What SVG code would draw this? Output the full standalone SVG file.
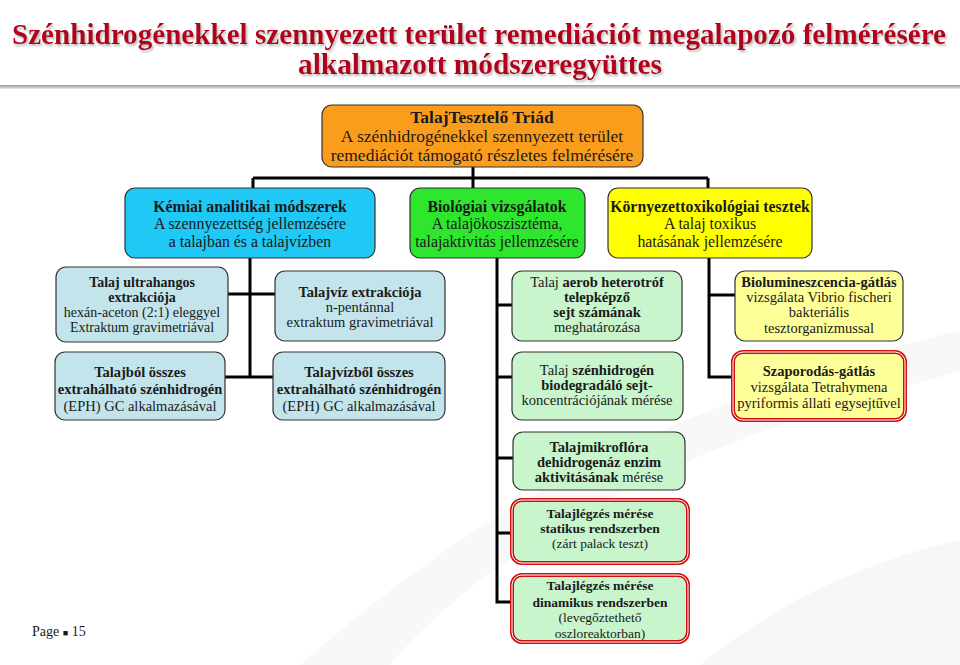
<svg xmlns="http://www.w3.org/2000/svg" width="960" height="665" viewBox="0 0 960 665">
<defs>
<linearGradient id="rule" x1="0" y1="0" x2="0" y2="1">
<stop offset="0" stop-color="#9a9a9a"/>
<stop offset="1" stop-color="#e8e8e8"/>
</linearGradient>
<filter id="tshadow" x="-5%" y="-20%" width="110%" height="150%">
<feDropShadow dx="1.5" dy="2" stdDeviation="0.8" flood-color="#999999" flood-opacity="0.7"/>
</filter>
<style>
text{font-family:"Liberation Serif","Times New Roman",serif;text-anchor:middle;fill:#1a1a1a}
.title{font-size:29px;font-weight:bold;fill:#b3001b}
.t18{font-size:17.5px}
.t16{font-size:15.8px}
.t145{font-size:14.5px}
.t14{font-size:14px}
.t135{font-size:13.5px}
.b{font-weight:bold}
.box{stroke:#333;stroke-width:1.2}
.dbl{stroke:#d01010;stroke-width:4}
.inner{fill:none;stroke:#fff;stroke-width:1}
.conn{fill:none;stroke:#000;stroke-width:3}
.bg{fill:#f3f3f3}
</style>
</defs>
<rect width="960" height="665" fill="#ffffff"/>
<g id="background">
<path class="bg" d="M300 665 C420 560 600 420 960 330 L960 372 C640 450 470 570 390 665 Z" opacity="0.6"/>
<path class="bg" d="M700 665 C780 600 870 560 960 540 L960 665 Z" opacity="0.7"/>
</g>
<g id="title" filter="url(#tshadow)">
<text class="title" x="479" y="44" textLength="934" lengthAdjust="spacingAndGlyphs">Szénhidrogénekkel szennyezett terület remediációt megalapozó felmérésére</text>
<text class="title" x="480" y="74" textLength="364" lengthAdjust="spacingAndGlyphs">alkalmazott módszeregyüttes</text>
</g>
<rect id="rule-line" x="0" y="85" width="960" height="4" fill="url(#rule)"/>
<g id="connectors">
<path class="conn" d="M473 167 V178 M253 178 H708 M253 178 V188 M473 178 V188 M708 178 V188"/>
<path class="conn" d="M250 258 V377 M228 294 H275 M225 377 H273"/>
<path class="conn" d="M497 258 V602 H512 M497 305 H512 M497 377 H512 M497 458 H513 M497 533 H512"/>
<path class="conn" d="M709 258 V377 H733 M709 295 H735"/>
</g>
<g id="triad">
<rect class="box" x="322" y="105" width="321" height="62" rx="10" fill="#fb9d1c"/>
<text class="t18 b" x="482" y="123">TalajTesztelő Triád</text>
<text class="t18" x="482" y="142">A szénhidrogénekkel szennyezett terület</text>
<text class="t18" x="482" y="161">remediációt támogató részletes felmérésére</text>
</g>
<g id="kemiai">
<rect class="box" x="125" y="188" width="250" height="70" rx="10" fill="#1fc8f5"/>
<text class="t16 b" x="250" y="212">Kémiai analitikai módszerek</text>
<text class="t16" x="250" y="229">A szennyezettség jellemzésére</text>
<text class="t16" x="250" y="247">a talajban és a talajvízben</text>
</g>
<g id="biologiai">
<rect class="box" x="410" y="188" width="175" height="70" rx="10" fill="#2ee62e"/>
<text class="t16 b" x="497" y="212">Biológiai vizsgálatok</text>
<text class="t16" x="497" y="229">A talajökoszisztéma,</text>
<text class="t16" x="497" y="247">talajaktivitás jellemzésére</text>
</g>
<g id="kornyezet">
<rect class="box" x="608" y="188" width="204" height="70" rx="10" fill="#ffff00"/>
<text class="t16 b" x="710" y="212">Környezettoxikológiai tesztek</text>
<text class="t16" x="710" y="229">A talaj  toxikus</text>
<text class="t16" x="710" y="247">hatásának jellemzésére</text>
</g>
<g id="ultrahang">
<rect class="box" x="56" y="267" width="172" height="75" rx="10" fill="#c2e4ea"/>
<text class="t14 b" x="142" y="287">Talaj ultrahangos</text>
<text class="t14 b" x="142" y="302">extrakciója</text>
<text class="t14" x="142" y="317">hexán-aceton (2:1) eleggyel</text>
<text class="t14" x="142" y="332">Extraktum gravimetriával</text>
</g>
<g id="talajviz">
<rect class="box" x="275" y="271" width="170" height="70" rx="10" fill="#c2e4ea"/>
<text class="t145 b" x="360" y="297">Talajvíz extrakciója</text>
<text class="t145" x="360" y="312">n-pentánnal</text>
<text class="t145" x="360" y="327">extraktum gravimetriával</text>
</g>
<g id="talajbol">
<rect class="box" x="55" y="352" width="170" height="68" rx="10" fill="#c2e4ea"/>
<text class="t145 b" x="140" y="377">Talajból összes</text>
<text class="t145 b" x="140" y="394">extrahálható szénhidrogén</text>
<text class="t145" x="140" y="411">(EPH) GC alkalmazásával</text>
</g>
<g id="talajvizbol">
<rect class="box" x="273" y="352" width="172" height="68" rx="10" fill="#c2e4ea"/>
<text class="t145 b" x="359" y="377">Talajvízből összes</text>
<text class="t145 b" x="359" y="394">extrahálható szénhidrogén</text>
<text class="t145" x="359" y="411">(EPH) GC alkalmazásával</text>
</g>
<g id="aerob">
<rect class="box" x="512" y="271" width="170" height="70" rx="10" fill="#c8f5cc"/>
<text class="t145" x="597" y="287">Talaj <tspan class="b">aerob heterotróf</tspan></text>
<text class="t145 b" x="597" y="302">telepképző</text>
<text class="t145 b" x="597" y="317">sejt számának</text>
<text class="t145" x="597" y="332">meghatározása</text>
</g>
<g id="biodegradalo">
<rect class="box" x="512" y="352" width="171" height="68" rx="10" fill="#c8f5cc"/>
<text class="t145" x="597" y="375">Talaj <tspan class="b">szénhidrogén</tspan></text>
<text class="t145 b" x="597" y="390">biodegradáló sejt-</text>
<text class="t145" x="597" y="405">koncentrációjának mérése</text>
</g>
<g id="mikroflora">
<rect class="box" x="513" y="432" width="172" height="58" rx="10" fill="#c8f5cc"/>
<text class="t145 b" x="599" y="452">Talajmikroflóra</text>
<text class="t145 b" x="599" y="467">dehidrogenáz enzim</text>
<text class="t145" x="599" y="482"><tspan class="b">aktivitásának</tspan> mérése</text>
</g>
<g id="statikus">
<rect class="dbl" x="512" y="500" width="176" height="63" rx="10" fill="#c8f5cc"/>
<rect class="inner" x="512" y="500" width="176" height="63" rx="10"/>
<text class="t135 b" x="600" y="518">Talajlégzés mérése</text>
<text class="t135 b" x="600" y="533">statikus rendszerben</text>
<text class="t135" x="600" y="548">(zárt palack teszt)</text>
</g>
<g id="dinamikus">
<rect class="dbl" x="512" y="575" width="176" height="67" rx="10" fill="#c8f5cc"/>
<rect class="inner" x="512" y="575" width="176" height="67" rx="10"/>
<text class="t135 b" x="600" y="590">Talajlégzés mérése</text>
<text class="t135 b" x="600" y="607">dinamikus rendszerben</text>
<text class="t135" x="600" y="622">(levegőztethető</text>
<text class="t135" x="600" y="638">oszloreaktorban)</text>
</g>
<g id="biolum">
<rect class="box" x="735" y="271" width="168" height="70" rx="10" fill="#ffff99"/>
<text class="t145 b" x="819" y="287">Biolumineszcencia-gátlás</text>
<text class="t145" x="819" y="302">vizsgálata Vibrio fischeri</text>
<text class="t145" x="819" y="317">bakteriális</text>
<text class="t145" x="819" y="333">tesztorganizmussal</text>
</g>
<g id="szaporodas">
<rect class="dbl" x="733" y="352" width="172" height="68" rx="10" fill="#ffff99"/>
<rect class="inner" x="733" y="352" width="172" height="68" rx="10"/>
<text class="t145 b" x="819" y="376">Szaporodás-gátlás</text>
<text class="t145" x="819" y="392">vizsgálata Tetrahymena</text>
<text class="t145" x="819" y="408">pyriformis állati egysejtűvel</text>
</g>
<g id="page">
<text class="t14" x="32" y="636" style="text-anchor:start">Page <tspan font-size="9">■</tspan> 15</text>
</g>
</svg>
